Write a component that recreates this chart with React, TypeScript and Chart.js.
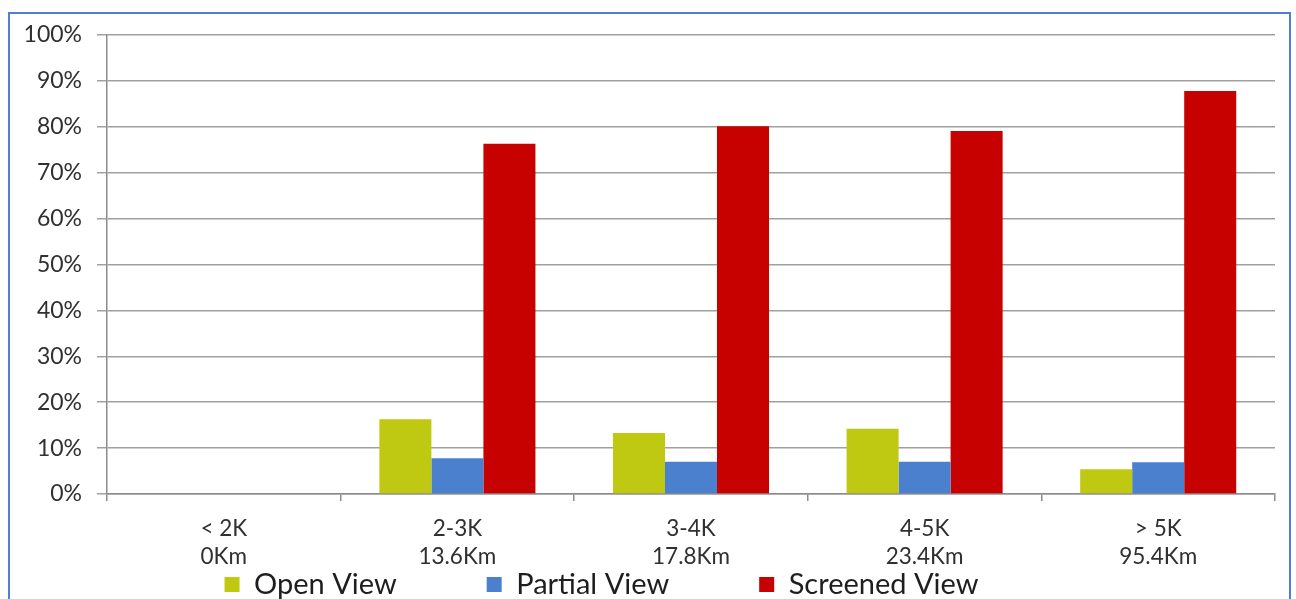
import React, { useEffect, useRef } from "react";
import { Chart, registerables } from "chart.js";

Chart.register(...registerables);

const categories: string[][] = [
  ["< 2K", "0Km"],
  ["2-3K", "13.6Km"],
  ["3-4K", "17.8Km"],
  ["4-5K", "23.4Km"],
  ["> 5K", "95.4Km"],
];
const seriesNames = ["Open View", "Partial View", "Screened View"];
const openView = [0, 16.3, 13.3, 14.2, 5.4];
const partialView = [0, 7.8, 7.0, 7.0, 6.9];
const screenedView = [0, 76.3, 80.1, 79.1, 87.8];
const yMin = 0;
const yMax = 100;
const yStep = 10;

const colors = ["#BFC912", "#4A80CE", "#C70000"];
const FONT = "Lato, 'Open Sans', sans-serif";
const LEGEND_PAD = 90;
const X_AXIS_H = 80;
const LEGEND_SHIFT = X_AXIS_H + LEGEND_PAD - 76;

const legendLift = {
  id: "legendLift",
  afterLayout(chart: any) {
    const lg = chart.legend;
    if (lg) {
      lg.top -= LEGEND_SHIFT;
      lg.bottom -= LEGEND_SHIFT;
    }
  },
};

export default function App() {
  const ref = useRef<HTMLCanvasElement | null>(null);

  useEffect(() => {
    if (!ref.current) return;
    const chart = new Chart(ref.current, {
      type: "bar",
      data: {
        labels: categories,
        datasets: [openView, partialView, screenedView].map((d, i) => ({
          label: seriesNames[i],
          data: d,
          backgroundColor: colors[i],
          borderWidth: 0,
          categoryPercentage: 0.668,
          barPercentage: 1.0,
        })),
      },
      plugins: [legendLift],
      options: {
        animation: false,
        responsive: true,
        maintainAspectRatio: false,
        layout: { padding: { top: 21, right: 14, left: 0, bottom: 0 } },
        plugins: {
          tooltip: { enabled: false },
          legend: {
            position: "bottom",
            labels: {
              boxWidth: 15,
              boxHeight: 15,
              padding: LEGEND_PAD,
              color: "#1e1e1e",
              font: { family: FONT, size: 29 },
            },
          },
        },
        scales: {
          x: {
            grid: {
              display: true,
              drawOnChartArea: false,
              drawTicks: true,
              tickLength: 7,
              color: "#8c8c8c",
              lineWidth: 1.5,
            },
            border: { display: true, color: "#8c8c8c", width: 1.5 },
            ticks: {
              color: "#303030",
              padding: 14,
              font: { family: FONT, size: 22.5, lineHeight: 1.25 },
              maxRotation: 0,
              autoSkip: false,
            },
            afterFit: (scale: any) => {
              scale.height = X_AXIS_H;
              scale.paddingLeft = 0;
              scale.paddingRight = 0;
            },
          },
          y: {
            min: yMin,
            max: yMax,
            grid: {
              color: "#a0a0a0",
              lineWidth: 1.5,
              drawTicks: true,
              tickLength: 10,
            },
            border: { display: true, color: "#8c8c8c", width: 1.5 },
            ticks: {
              stepSize: yStep,
              color: "#303030",
              padding: 15,
              font: { family: FONT, size: 23, lineHeight: 1.27 },
              callback: (v: any) => v + "%",
            },
            afterFit: (scale: any) => {
              scale.width = 179;
              scale.paddingTop = 0;
              scale.paddingBottom = 0;
            },
          },
        },
      },
    });
    return () => chart.destroy();
  }, []);

  return (
    <div
      style={{
        position: "absolute",
        left: 8,
        top: 12,
        width: 1279,
        height: 585,
        borderTop: "2px solid #4F7FD3",
        borderLeft: "2px solid #4F7FD3",
        borderRight: "2px solid #4F7FD3",
        overflow: "hidden",
        background: "#fff",
      }}
    >
      <div style={{ position: "relative", left: -82, width: 1361, height: 689 }}>
        <canvas ref={ref} />
      </div>
    </div>
  );
}
